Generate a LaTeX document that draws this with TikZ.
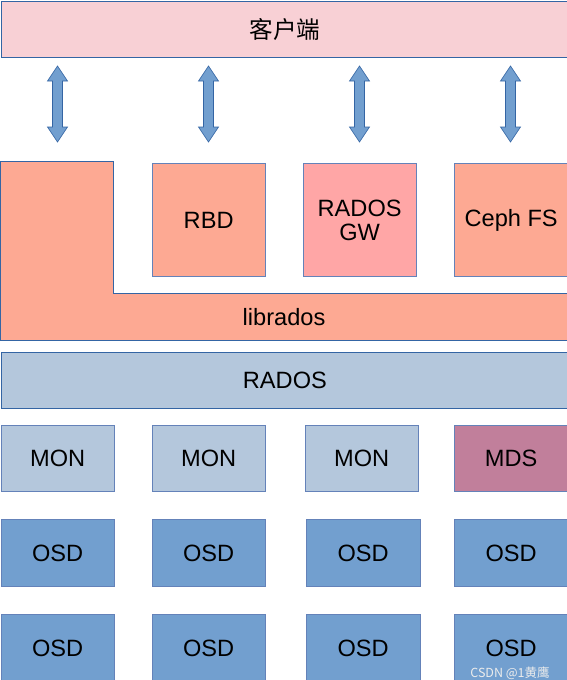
\documentclass[tikz,border=0pt]{standalone}
\usepackage{fontspec}
\setmainfont{Liberation Sans}
\newfontfamily\cjk{Noto Sans CJK SC}
\usetikzlibrary{positioning}

\definecolor{lineblue}{RGB}{52,101,164}
\definecolor{boxline}{RGB}{100,130,185}
\definecolor{clientpink}{RGB}{248,208,213}
\definecolor{salmon}{RGB}{253,169,147}
\definecolor{gwpink}{RGB}{255,166,166}
\definecolor{radosblue}{RGB}{180,199,220}
\definecolor{mdsred}{RGB}{193,127,155}
\definecolor{osdblue}{RGB}{114,159,207}

\begin{document}
\begin{tikzpicture}[x=1pt,y=-1pt,font=\fontsize{23.6}{27}\selectfont,
  box/.style={draw=boxline,line width=0.8pt,inner sep=0pt,anchor=north west,
    align=center,minimum width=113.5pt},
  layer/.style={box,draw=lineblue,minimum width=568pt}]
\clip (0,0) rectangle (567,680);

% clients
\node[layer,fill=clientpink,minimum height=56pt] (client) at (0.5,1) {\cjk 客户端};
\foreach \x in {57.5,208.5,359.5,510.5}
  \filldraw[fill=osdblue,draw=lineblue,line width=0.6pt]
    (\x-5,81) -- (\x-10,81) -- (\x,66) -- (\x+10,81) -- (\x+5,81) --
    (\x+5,127) -- (\x+10,127) -- (\x,142) -- (\x-10,127) -- (\x-5,127) -- cycle;

% librados and the interfaces above it
\filldraw[fill=salmon,draw=lineblue,line width=0.8pt]
  (0.5,161) -- (113.5,161) -- (113.5,293) -- (568,293) -- (568,340) -- (0.5,340) -- cycle;
\node (librados) at (284,317) {librados};
\node[box,fill=salmon,minimum height=113pt] (rbd) at (151.5,163) {RBD};
\node[box,fill=gwpink,minimum height=113pt] (radosgw) at (302.5,163) {RADOS\\[-3pt]GW};
\node[box,fill=salmon,minimum height=113pt] (cephfs) at (454,163) {Ceph FS};

% rados
\node[layer,fill=radosblue,minimum height=56pt] (rados) at (0.5,352) {RADOS};

% monitors and mds
\node[box,fill=radosblue,minimum height=66pt] (mon1) at (0.5,425) {MON};
\node[box,fill=radosblue,minimum height=66pt] (mon2) at (151.5,425) {MON};
\node[box,fill=radosblue,minimum height=66pt] (mon3) at (304.5,425) {MON};
\node[box,fill=mdsred,minimum height=66pt] (mds) at (454,425) {MDS};

% osds
\foreach \y [count=\r] in {519,614}
  \foreach \x [count=\c] in {0.5,151.5,306,454}
    \node[box,fill=osdblue,minimum height=67pt] (osd-\r-\c) at (\x,\y) {OSD};

\node[font=\cjk\fontsize{12.5}{14}\selectfont,text=white!85!gray] (mark) at (510,673) {CSDN @1黄鹰};
\end{tikzpicture}
\end{document}
